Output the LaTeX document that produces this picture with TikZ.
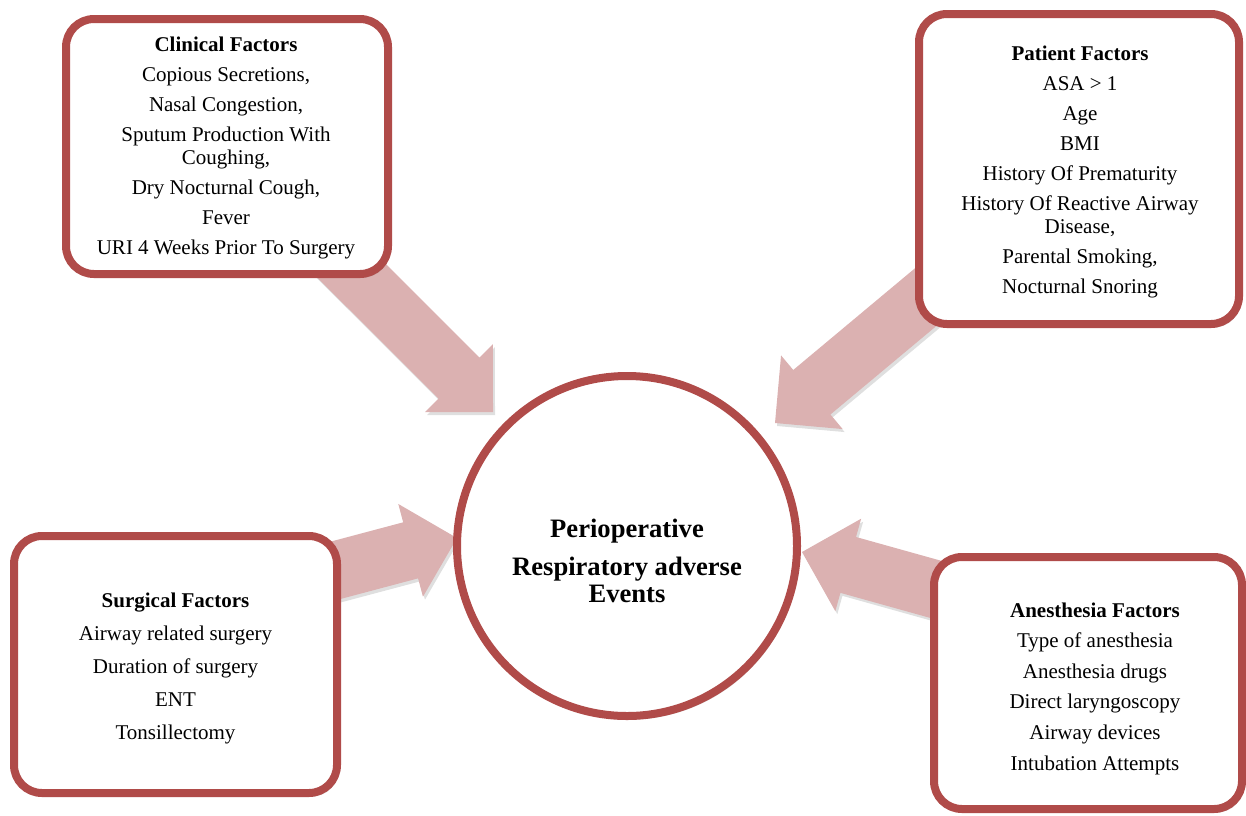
\documentclass[tikz,border=0pt]{standalone}
\usepackage{fontspec}
\setmainfont{Liberation Serif}
\usetikzlibrary{calc,shadows}
\pgfdeclarelayer{background}
\pgfsetlayers{background,main}
\definecolor{bordercol}{RGB}{176,75,73}
\definecolor{arrowcol}{RGB}{219,177,177}
\tikzset{
  factor/.style={draw=bordercol, line width=4pt, rounded corners=14pt, fill=white,
    inner sep=0pt,
    drop shadow={shadow xshift=1.2pt, shadow yshift=-1.8pt, opacity=0.25}},
  factortext/.style={align=center, inner sep=0pt, font=\fontsize{10.5}{11.5}\selectfont},
  hub/.style={draw=bordercol, line width=4pt, circle, fill=white, minimum size=170pt, inner sep=0pt,
    drop shadow={shadow xshift=1.2pt, shadow yshift=-1.8pt, opacity=0.25}},
  hubtext/.style={align=center, inner sep=0pt, font=\fontsize{13.3}{13.5}\selectfont\bfseries},
  blockarrow/.style={fill=arrowcol,
    drop shadow={shadow xshift=1pt, shadow yshift=-1.5pt, opacity=0.25}}
}
\newcommand{\blockarr}[2]{%
  \path ($(#2)!24pt!(#1)$) coordinate (hb);
  \fill[blockarrow] (#2) -- ($(hb)!24pt!90:(#2)$) -- ($(hb)!14.5pt!90:(#2)$)
    -- ($(#1)!14.5pt!90:(#2)$) -- ($(#1)!14.5pt!-90:(#2)$)
    -- ($(hb)!14.5pt!-90:(#2)$) -- ($(hb)!24pt!-90:(#2)$) -- cycle;
}
\begin{document}
\begin{tikzpicture}[x=0.5pt,y=-0.5pt]
\useasboundingbox (0,0) rectangle (1246,815);

\node[hub] (hub) at (627,546) {};
\node[hubtext, anchor=north] (hubt) at (627,518.5)
  {Perioperative\\[5.5pt]Respiratory adverse\\Events};

\node[factor, minimum width=161pt, minimum height=127.5pt] (clinical) at (227,146.5) {};
\node[factortext] (clinicalt) at (226,148)
  {\textbf{Clinical Factors}\\[3.5pt]Copious Secretions,\\[3.5pt]Nasal Congestion,\\[3.5pt]Sputum Production With\\Coughing,\\[3.5pt]Dry Nocturnal Cough,\\[3.5pt]Fever\\[3.5pt]URI 4 Weeks Prior To Surgery};

\node[factor, minimum width=160pt, minimum height=155pt] (patient) at (1079,169) {};
\node[factortext] (patientt) at (1080,172)
  {\textbf{Patient Factors}\\[3.5pt]ASA {\char"3E} 1\\[3.5pt]Age\\[3.5pt]BMI\\[3.5pt]History Of Prematurity\\[3.5pt]History Of Reactive Airway\\Disease,\\[3.5pt]Parental Smoking,\\[3.5pt]Nocturnal Snoring};

\node[factor, minimum width=161.5pt, minimum height=128.5pt] (surgical) at (175.5,664.5) {};
\node[factortext] (surgicalt) at (175.5,668)
  {\textbf{Surgical Factors}\\[5pt]Airway related surgery\\[5pt]Duration of surgery\\[5pt]ENT\\[5pt]Tonsillectomy};

\node[factor, minimum width=154pt, minimum height=126pt] (anesthesia) at (1088,683) {};
\node[factortext] (anesthesiat) at (1095,688.5)
  {\textbf{Anesthesia Factors}\\[3.8pt]Type of anesthesia\\[3.8pt]Anesthesia drugs\\[3.8pt]Direct laryngoscopy\\[3.8pt]Airway devices\\[3.8pt]Intubation Attempts};

\coordinate (tip1) at (493,412);
\coordinate (tip2) at (775,423);
\coordinate (tail3) at (284,584);
\coordinate (tip3) at (457,538);
\coordinate (tail4) at (981,602);
\coordinate (tip4) at (802,552);

\begin{pgfonlayer}{background}
  \blockarr{clinical.center}{tip1}
  \blockarr{patient.center}{tip2}
  \blockarr{tail3}{tip3}
  \blockarr{tail4}{tip4}
\end{pgfonlayer}
\end{tikzpicture}
\end{document}
